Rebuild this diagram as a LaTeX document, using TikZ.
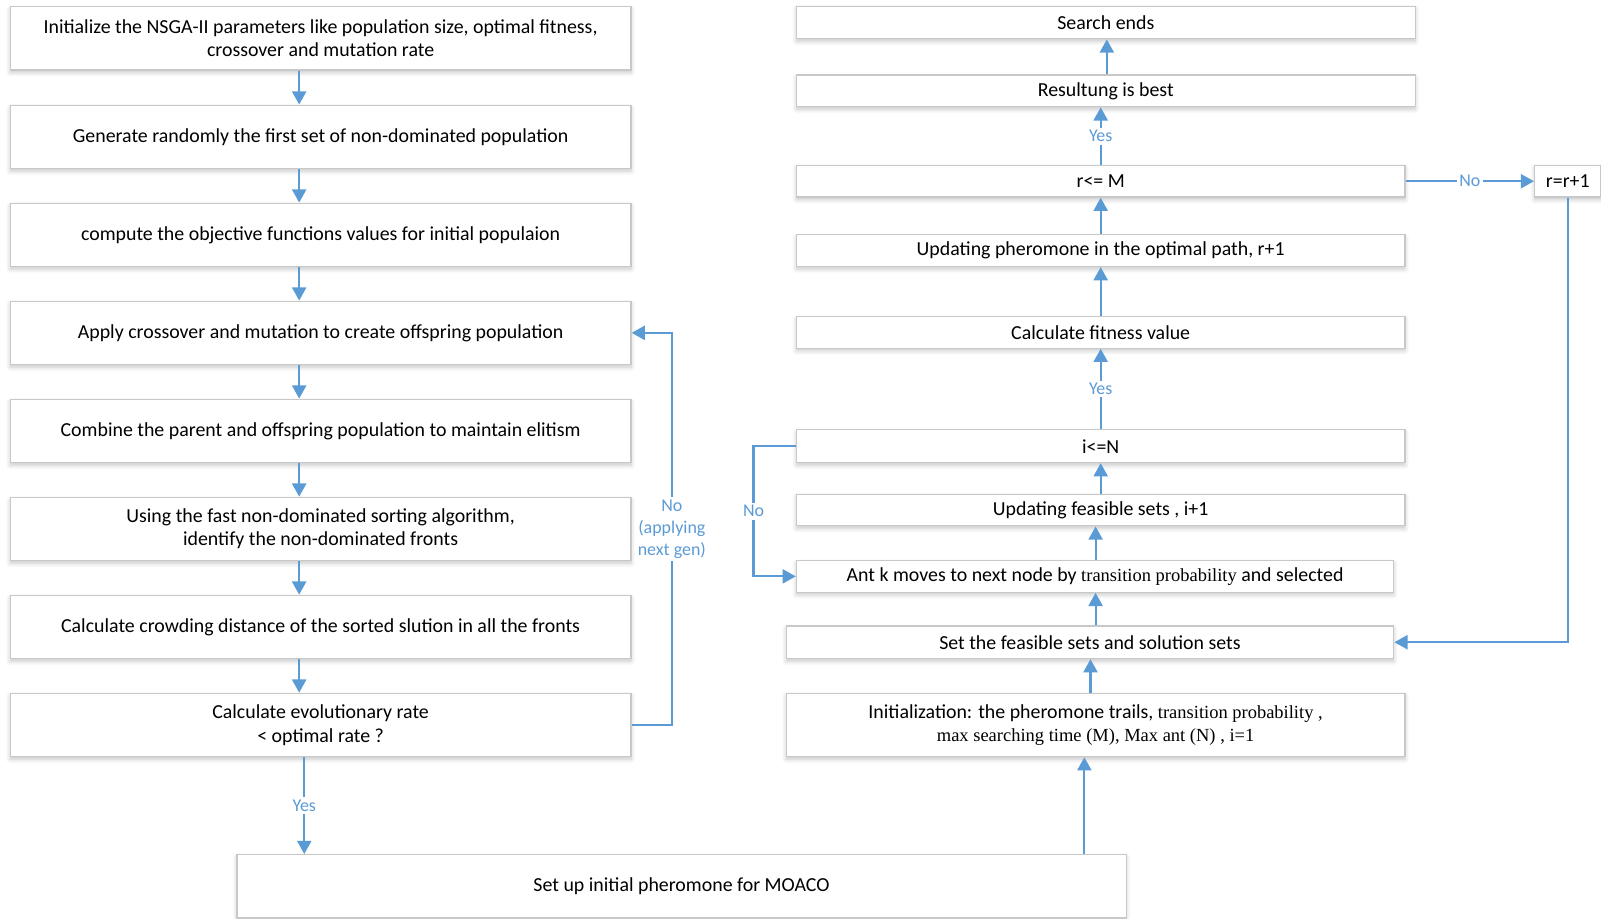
\documentclass[tikz,border=0pt]{standalone}
\usepackage{fontspec}
\setmainfont{Carlito}
\newfontfamily\tnr[Scale=0.93]{Liberation Serif}
\usetikzlibrary{arrows.meta,shadows.blur}

\definecolor{flowblue}{RGB}{91,155,213}
\definecolor{boxgray}{RGB}{200,200,200}

\begin{document}
\begin{tikzpicture}[x=0.0204cm,y=-0.0204cm,
    box/.style 2 args={draw=boxgray, line width=0.7pt, fill=white, inner sep=0pt, align=center,
        minimum width=#1*0.0204cm, minimum height=#2*0.0204cm, font=\fontsize{11.3}{13.4}\selectfont,
        blur shadow={shadow xshift=0pt, shadow yshift=-1.5pt, shadow blur radius=2.5pt, shadow opacity=22, shadow blur steps=6}},
    arr/.style={draw=flowblue, line width=1.2pt, -{Triangle[length=7.5pt,width=8pt]}},
    lbl/.style={fill=white, text=flowblue, inner sep=1.5pt, align=center, font=\fontsize{10.2}{12.5}\selectfont}]
    \useasboundingbox (0,0) rectangle (1568,900);

    % NSGA-II column
    \node[box={608}{62}] (b1) at (314,37.5) {Initialize the NSGA-II parameters like population size, optimal fitness,\\crossover and mutation rate};
    \node[box={608}{62}] (b2) at (314,134) {Generate randomly the first set of non-dominated population};
    \node[box={608}{62}] (b3) at (314,230) {compute the objective functions values for initial populaion};
    \node[box={608}{62}] (b4) at (314,326) {Apply crossover and mutation to create offspring population};
    \node[box={608}{62}] (b5) at (314,422) {Combine the parent and offspring population to maintain elitism};
    \node[box={608}{62}] (b6) at (314,518) {Using the fast non-dominated sorting algorithm,\\identify the non-dominated fronts};
    \node[box={608}{62}] (b7) at (314,614) {Calculate crowding distance of the sorted slution in all the fronts};
    \node[box={608}{62}] (b8) at (314,710) {Calculate evolutionary rate\\< optimal rate ?};
    \node[box={871}{62}] (moaco) at (667.5,868) {Set up initial pheromone for MOACO};

    % MOACO column
    \node[box={606}{32}] (ends) at (1083,22) {Search ends};
    \node[box={606}{31}] (best) at (1083,89) {Resultung is best};
    \node[box={596}{31}] (rm) at (1078,177.5) {r<= M};
    \node[box={65}{31}] (rr) at (1535.5,177.5) {r=r+1};
    \node[box={596}{31}] (upd) at (1078,245.5) {Updating pheromone in the optimal path, r+1};
    \node[box={596}{31}] (fit) at (1078,325.5) {Calculate fitness value};
    \node[box={596}{32}] (in) at (1078,437) {i<=N};
    \node[box={596}{31}] (feas) at (1078,499.5) {Updating feasible sets , i+1};
    \node[box={585}{31}] (ant) at (1072.5,564.5) {Ant k moves to next node by {\tnr transition probability} and selected};
    \node[box={595}{32}] (sets) at (1067.5,629) {Set the feasible sets and solution sets};
    \node[box={606}{62}] (init) at (1073,710) {Initialization: the pheromone trails, {\tnr transition probability ,}\\{\tnr max searching time (M), Max ant (N) , i=1}};

    \coordinate (lx) at (293,0);
    \coordinate (ly) at (298,0);
    \coordinate (lp) at (658,0);
    \coordinate (rl) at (738,0);
    \coordinate (ra) at (1078,0);
    \coordinate (rb) at (1084,0);
    \coordinate (rc) at (1073,0);
    \coordinate (rd) at (1068,0);
    \coordinate (re) at (1062,0);

    \draw[arr] (b1.south -| lx) -- (b2.north -| lx);
    \draw[arr] (b2.south -| lx) -- (b3.north -| lx);
    \draw[arr] (b3.south -| lx) -- (b4.north -| lx);
    \draw[arr] (b4.south -| lx) -- (b5.north -| lx);
    \draw[arr] (b5.south -| lx) -- (b6.north -| lx);
    \draw[arr] (b6.south -| lx) -- (b7.north -| lx);
    \draw[arr] (b7.south -| lx) -- (b8.north -| lx);
    \draw[arr] (b8.south -| ly) -- node[lbl] {Yes} (moaco.north -| ly);
    \draw[arr] (b8.east) -- (b8.east -| lp) -- node[lbl] {No\\(applying\\next gen)} (b4.east -| lp) -- (b4.east);

    \draw[arr] (moaco.north -| re) -- (init.south -| re);
    \draw[arr] (init.north -| rd) -- (sets.south -| rd);
    \draw[arr] (sets.north -| rc) -- (ant.south -| rc);
    \draw[arr] (ant.north -| rc) -- (feas.south -| rc);
    \draw[arr] (feas.north -| ra) -- (in.south -| ra);
    \draw[arr] (in.north -| ra) -- node[lbl] {Yes} (fit.south -| ra);
    \draw[arr] (fit.north -| ra) -- (upd.south -| ra);
    \draw[arr] (upd.north -| ra) -- (rm.south -| ra);
    \draw[arr] (rm.north -| ra) -- node[lbl] {Yes} (best.south -| ra);
    \draw[arr] (best.north -| rb) -- (ends.south -| rb);
    \draw[arr] (in.west) -- (in.west -| rl) -- node[lbl] {No} (ant.west -| rl) -- (ant.west);
    \draw[arr] (rm.east) -- node[lbl] {No} (rr.west);
    \draw[arr] (rr.south) |- (sets.east);
\end{tikzpicture}
\end{document}
